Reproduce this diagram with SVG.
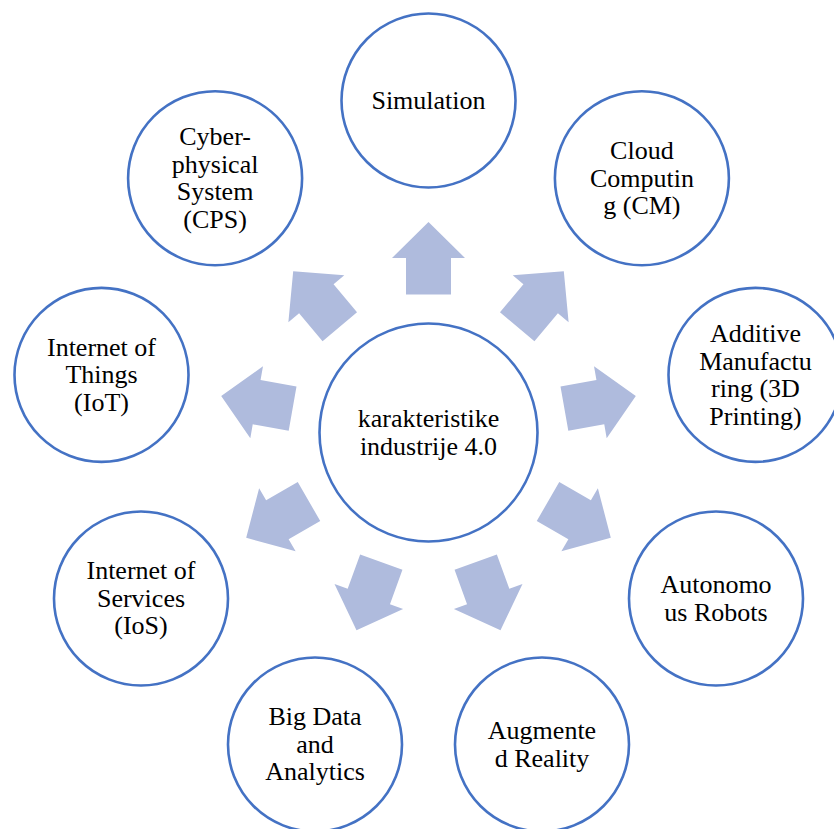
<svg xmlns="http://www.w3.org/2000/svg" xmlns:xlink="http://www.w3.org/1999/xlink" width="834" height="829" viewBox="0 0 834 829">
<style>
.node{fill:#FFFFFF;stroke:#4472C4;stroke-width:2.6}
.lbl{font-size:26px;fill:#000000;text-anchor:middle}
.arr{fill:#AFBBDD;stroke:none}
</style>
<defs>
<polygon id="arrow" class="arr" points="-22.5,-138 22.5,-138 22.5,-174.5 36.5,-174.5 0,-210.5 -36.5,-174.5 -22.5,-174.5"/>
</defs>
<rect width="834" height="829" fill="#FFFFFF"/>
<g id="connectors">
<use xlink:href="#arrow" transform="translate(428.5,432.5) rotate(0)"/>
<use xlink:href="#arrow" transform="translate(428.5,432.5) rotate(40)"/>
<use xlink:href="#arrow" transform="translate(428.5,432.5) rotate(80)"/>
<use xlink:href="#arrow" transform="translate(428.5,432.5) rotate(120)"/>
<use xlink:href="#arrow" transform="translate(428.5,432.5) rotate(160)"/>
<use xlink:href="#arrow" transform="translate(428.5,432.5) rotate(200)"/>
<use xlink:href="#arrow" transform="translate(428.5,432.5) rotate(240)"/>
<use xlink:href="#arrow" transform="translate(428.5,432.5) rotate(280)"/>
<use xlink:href="#arrow" transform="translate(428.5,432.5) rotate(320)"/>
</g>
<g font-family="Liberation Serif, Tinos, Times New Roman, serif">
<g id="center">
<circle class="node" cx="428.5" cy="432.5" r="109"/>
<text class="lbl" x="428.5" y="427">karakteristike</text>
<text class="lbl" x="428.5" y="454.5">industrije 4.0</text>
</g>
<g id="simulation">
<circle class="node" cx="428.5" cy="100.5" r="87"/>
<text class="lbl" x="428.5" y="108.8">Simulation</text>
</g>
<g id="cloud">
<circle class="node" cx="641.9" cy="178.2" r="87"/>
<text class="lbl" x="641.9" y="159">Cloud</text>
<text class="lbl" x="641.9" y="186.5">Computin</text>
<text class="lbl" x="641.9" y="214">g (CM)</text>
</g>
<g id="additive">
<circle class="node" cx="755.5" cy="374.9" r="87"/>
<text class="lbl" x="755.5" y="342">Additive</text>
<text class="lbl" x="755.5" y="369.5">Manufactu</text>
<text class="lbl" x="755.5" y="397">ring (3D</text>
<text class="lbl" x="755.5" y="424.5">Printing)</text>
</g>
<g id="autonomous">
<circle class="node" cx="716" cy="598.5" r="87"/>
<text class="lbl" x="716" y="593">Autonomo</text>
<text class="lbl" x="716" y="620.5">us Robots</text>
</g>
<g id="augmented">
<circle class="node" cx="542" cy="744.5" r="87"/>
<text class="lbl" x="542" y="739">Augmente</text>
<text class="lbl" x="542" y="766.5">d Reality</text>
</g>
<g id="bigdata">
<circle class="node" cx="315" cy="744.5" r="87"/>
<text class="lbl" x="315" y="725.3">Big Data</text>
<text class="lbl" x="315" y="752.8">and</text>
<text class="lbl" x="315" y="780.3">Analytics</text>
</g>
<g id="ios">
<circle class="node" cx="141" cy="598.5" r="87"/>
<text class="lbl" x="141" y="579.3">Internet of</text>
<text class="lbl" x="141" y="606.8">Services</text>
<text class="lbl" x="141" y="634.3">(IoS)</text>
</g>
<g id="iot">
<circle class="node" cx="101.5" cy="374.9" r="87"/>
<text class="lbl" x="101.5" y="355.7">Internet of</text>
<text class="lbl" x="101.5" y="383.2">Things</text>
<text class="lbl" x="101.5" y="410.7">(IoT)</text>
</g>
<g id="cps">
<circle class="node" cx="215.1" cy="178.2" r="87"/>
<text class="lbl" x="215.1" y="145.25">Cyber-</text>
<text class="lbl" x="215.1" y="172.75">physical</text>
<text class="lbl" x="215.1" y="200.25">System</text>
<text class="lbl" x="215.1" y="227.75">(CPS)</text>
</g>
</g>
</svg>
